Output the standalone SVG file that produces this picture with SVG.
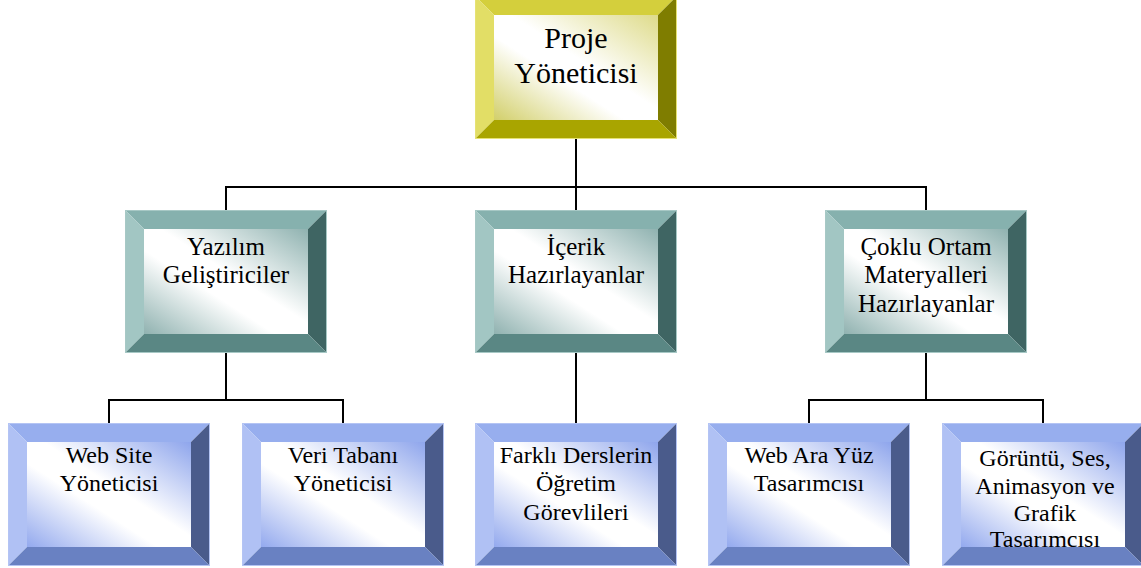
<svg xmlns="http://www.w3.org/2000/svg" width="1141" height="568" viewBox="0 0 1141 568">
<defs>
<linearGradient id="gy" x1="1" y1="0" x2="0" y2="1"><stop offset="0" stop-color="#dedb8a"/><stop offset="0.45" stop-color="#ffffff"/><stop offset="0.6" stop-color="#ffffff"/><stop offset="1" stop-color="#d2cf6a"/></linearGradient>
<linearGradient id="gt" x1="1" y1="0" x2="0" y2="1"><stop offset="0" stop-color="#8fb2b0"/><stop offset="0.45" stop-color="#ffffff"/><stop offset="0.6" stop-color="#ffffff"/><stop offset="1" stop-color="#90b2b0"/></linearGradient>
<linearGradient id="gb" x1="1" y1="0" x2="0" y2="1"><stop offset="0" stop-color="#8ea5ec"/><stop offset="0.45" stop-color="#ffffff"/><stop offset="0.6" stop-color="#ffffff"/><stop offset="1" stop-color="#93a9ee"/></linearGradient>
</defs>
<style>
.o{fill:none;stroke-width:1}
.yel .t{fill:#d4cf3c}.yel .l{fill:#e2de66}.yel .r{fill:#7f7d00}.yel .b{fill:#a9a500}.yel .f{fill:url(#gy)}.yel .o{stroke:#e6e274}
.tea .t{fill:#86b1ae}.tea .l{fill:#a2c6c3}.tea .r{fill:#3f6563}.tea .b{fill:#5a8784}.tea .f{fill:url(#gt)}.tea .o{stroke:#a7c8c5}
.blu .t{fill:#97aeee}.blu .l{fill:#b0c1f4}.blu .r{fill:#4a5b8b}.blu .b{fill:#6981c2}.blu .f{fill:url(#gb)}.blu .o{stroke:#b4c4f4}
text{font-family:"Liberation Serif","Times New Roman",serif;fill:#000;text-anchor:middle}
.s30{font-size:30px}.s25{font-size:25px}.s24{font-size:24px}
.c{fill:none;stroke:#000;stroke-width:2}
</style>
<g id="connectors">
<polyline class="c" points="576,139 576,187"/>
<polyline class="c" points="226,210 226,187 926,187 926,210"/>
<polyline class="c" points="576,187 576,210"/>
<polyline class="c" points="226,353 226,400"/>
<polyline class="c" points="109,423 109,400 343,400 343,423"/>
<polyline class="c" points="576,353 576,423"/>
<polyline class="c" points="926,353 926,400"/>
<polyline class="c" points="809,423 809,400 1043,400 1043,423"/>
</g>
<g id="n-proje" class="yel">
<g transform="translate(475,-4)">
<polygon class="t" points="0,0 202,0 183,19 19,19"/><polygon class="l" points="0,0 19,19 19,124 0,143"/><polygon class="r" points="202,0 202,143 183,124 183,19"/><polygon class="b" points="0,143 19,124 183,124 202,143"/><rect class="f" x="19" y="19" width="164" height="105"/><rect class="o" x="0.5" y="0.5" width="201" height="142"/>
</g>
<text class="s30" x="576" y="48">Proje</text>
<text class="s30" x="576" y="83">Yöneticisi</text>
</g>
<g id="n-yazilim" class="tea">
<g transform="translate(125,210)">
<polygon class="t" points="0,0 202,0 183,19 19,19"/><polygon class="l" points="0,0 19,19 19,124 0,143"/><polygon class="r" points="202,0 202,143 183,124 183,19"/><polygon class="b" points="0,143 19,124 183,124 202,143"/><rect class="f" x="19" y="19" width="164" height="105"/><rect class="o" x="0.5" y="0.5" width="201" height="142"/>
</g>
<text class="s25" x="226" y="255">Yazılım</text>
<text class="s25" x="226" y="283">Geliştiriciler</text>
</g>
<g id="n-icerik" class="tea">
<g transform="translate(475,210)">
<polygon class="t" points="0,0 202,0 183,19 19,19"/><polygon class="l" points="0,0 19,19 19,124 0,143"/><polygon class="r" points="202,0 202,143 183,124 183,19"/><polygon class="b" points="0,143 19,124 183,124 202,143"/><rect class="f" x="19" y="19" width="164" height="105"/><rect class="o" x="0.5" y="0.5" width="201" height="142"/>
</g>
<text class="s25" x="576" y="255">İçerik</text>
<text class="s25" x="576" y="283">Hazırlayanlar</text>
</g>
<g id="n-coklu" class="tea">
<g transform="translate(825,210)">
<polygon class="t" points="0,0 202,0 183,19 19,19"/><polygon class="l" points="0,0 19,19 19,124 0,143"/><polygon class="r" points="202,0 202,143 183,124 183,19"/><polygon class="b" points="0,143 19,124 183,124 202,143"/><rect class="f" x="19" y="19" width="164" height="105"/><rect class="o" x="0.5" y="0.5" width="201" height="142"/>
</g>
<text class="s25" x="926" y="255">Çoklu Ortam</text>
<text class="s25" x="926" y="283">Materyalleri</text>
<text class="s25" x="926" y="312">Hazırlayanlar</text>
</g>
<g id="n-web" class="blu">
<g transform="translate(8,423)">
<polygon class="t" points="0,0 202,0 183,19 19,19"/><polygon class="l" points="0,0 19,19 19,124 0,143"/><polygon class="r" points="202,0 202,143 183,124 183,19"/><polygon class="b" points="0,143 19,124 183,124 202,143"/><rect class="f" x="19" y="19" width="164" height="105"/><rect class="o" x="0.5" y="0.5" width="201" height="142"/>
</g>
<text class="s24" x="109" y="463">Web Site</text>
<text class="s24" x="109" y="491">Yöneticisi</text>
</g>
<g id="n-veri" class="blu">
<g transform="translate(242,423)">
<polygon class="t" points="0,0 202,0 183,19 19,19"/><polygon class="l" points="0,0 19,19 19,124 0,143"/><polygon class="r" points="202,0 202,143 183,124 183,19"/><polygon class="b" points="0,143 19,124 183,124 202,143"/><rect class="f" x="19" y="19" width="164" height="105"/><rect class="o" x="0.5" y="0.5" width="201" height="142"/>
</g>
<text class="s24" x="343" y="463">Veri Tabanı</text>
<text class="s24" x="343" y="491">Yöneticisi</text>
</g>
<g id="n-farkli" class="blu">
<g transform="translate(475,423)">
<polygon class="t" points="0,0 202,0 183,19 19,19"/><polygon class="l" points="0,0 19,19 19,124 0,143"/><polygon class="r" points="202,0 202,143 183,124 183,19"/><polygon class="b" points="0,143 19,124 183,124 202,143"/><rect class="f" x="19" y="19" width="164" height="105"/><rect class="o" x="0.5" y="0.5" width="201" height="142"/>
</g>
<text class="s24" x="576" y="463">Farklı Derslerin</text>
<text class="s24" x="576" y="491">Öğretim</text>
<text class="s24" x="576" y="520">Görevlileri</text>
</g>
<g id="n-webara" class="blu">
<g transform="translate(708,423)">
<polygon class="t" points="0,0 202,0 183,19 19,19"/><polygon class="l" points="0,0 19,19 19,124 0,143"/><polygon class="r" points="202,0 202,143 183,124 183,19"/><polygon class="b" points="0,143 19,124 183,124 202,143"/><rect class="f" x="19" y="19" width="164" height="105"/><rect class="o" x="0.5" y="0.5" width="201" height="142"/>
</g>
<text class="s24" x="809" y="463">Web Ara Yüz</text>
<text class="s24" x="809" y="491">Tasarımcısı</text>
</g>
<g id="n-goruntu" class="blu">
<g transform="translate(942,423)">
<polygon class="t" points="0,0 202,0 183,19 19,19"/><polygon class="l" points="0,0 19,19 19,124 0,143"/><polygon class="r" points="202,0 202,143 183,124 183,19"/><polygon class="b" points="0,143 19,124 183,124 202,143"/><rect class="f" x="19" y="19" width="164" height="105"/><rect class="o" x="0.5" y="0.5" width="201" height="142"/>
</g>
<text class="s24" x="1045" y="466">Görüntü, Ses,</text>
<text class="s24" x="1045" y="494">Animasyon ve</text>
<text class="s24" x="1045" y="521">Grafik</text>
<text class="s24" x="1045" y="547">Tasarımcısı</text>
</g>
</svg>
